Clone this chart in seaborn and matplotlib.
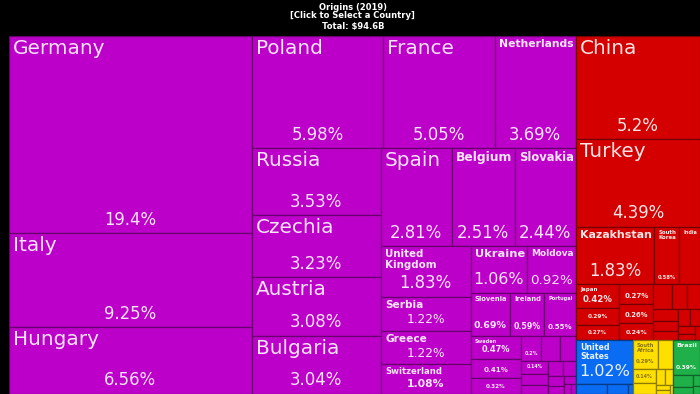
import numpy as np
import pandas as pd
import matplotlib
matplotlib.use("Agg")
import matplotlib.pyplot as plt
import matplotlib.colors as mcolors
import seaborn as sns
from matplotlib.patches import Rectangle
from matplotlib.textpath import TextPath
from matplotlib.font_manager import FontProperties

sns.set_style("dark")
plt.rcParams['font.family'] = ['DejaVu Sans']

# share of total (%) per origin country, grouped by continent
europe = ["Germany", "Italy", "Hungary", "Poland", "France", "Netherlands", "Russia",
          "Czechia", "Austria", "Bulgaria", "Spain", "Belgium", "Slovakia",
          "United Kingdom", "Serbia", "Greece", "Switzerland", "Ukraine", "Moldova",
          "Slovenia", "Ireland", "Portugal", "Sweden", "Denmark", "Croatia", "Romania",
          "Lithuania", "Finland", "Norway", "Belarus", "Estonia", "Latvia",
          "Bosnia and Herzegovina", "Luxembourg", "North Macedonia", "Albania",
          "Montenegro", "Malta"]
europe_pct = [19.4, 9.25, 6.56, 5.98, 5.05, 3.69, 3.53, 3.23, 3.08, 3.04, 2.81, 2.51, 2.44,
              1.83, 1.22, 1.22, 1.08, 1.06, 0.92, 0.69, 0.59, 0.55, 0.47, 0.41, 0.32, 0.20,
              0.19, 0.16, 0.14, 0.12, 0.10, 0.09, 0.08, 0.07, 0.05, 0.04, 0.03, 0.02]

asia = ["China", "Turkey", "Kazakhstan", "South Korea", "India", "Japan", "Iraq", "Thailand",
        "Chinese Taipei", "Vietnam", "Malaysia", "Israel", "Georgia", "Azerbaijan",
        "Uzbekistan", "Indonesia", "Singapore", "United Arab Emirates", "Iran",
        "Philippines", "Pakistan", "Saudi Arabia"]
asia_pct = [5.2, 4.39, 1.83, 0.58, 0.49, 0.42, 0.29, 0.27, 0.27, 0.26, 0.24, 0.19, 0.15,
            0.13, 0.12, 0.10, 0.09, 0.08, 0.07, 0.05, 0.04, 0.03]

north_america = ["United States", "Canada", "Mexico", "Guatemala"]
north_america_pct = [1.02, 0.12, 0.08, 0.02]

africa = ["South Africa", "Egypt", "Tunisia", "Morocco", "Algeria", "Nigeria", "Kenya",
          "Ghana", "Ethiopia"]
africa_pct = [0.29, 0.17, 0.14, 0.10, 0.06, 0.05, 0.03, 0.02, 0.01]

south_america = ["Brazil", "Argentina", "Chile", "Peru", "Colombia"]
south_america_pct = [0.39, 0.10, 0.06, 0.03, 0.02]

continent_colors = dict(zip(
    ["Europe", "Asia", "North America", "Africa", "South America"],
    sns.color_palette(["#bd00c9", "#d40000", "#0a6cf2", "#ffdf00", "#1fb04a"])))

df = pd.concat([
    pd.DataFrame({"continent": "Europe", "country": europe, "share": europe_pct}),
    pd.DataFrame({"continent": "Asia", "country": asia, "share": asia_pct}),
    pd.DataFrame({"continent": "North America", "country": north_america, "share": north_america_pct}),
    pd.DataFrame({"continent": "Africa", "country": africa, "share": africa_pct}),
    pd.DataFrame({"continent": "South America", "country": south_america, "share": south_america_pct}),
], ignore_index=True)

PHI = (1 + 5 ** 0.5) / 2


def squarify(values, x0, y0, x1, y1, ratio=PHI):
    # same steps as d3.treemapSquarify
    rects = [None] * len(values)
    value = float(sum(values))
    n = len(values)
    i0 = i1 = 0
    while i0 < n:
        dx, dy = x1 - x0, y1 - y0
        s = values[i1]
        i1 += 1
        vmin = vmax = s
        alpha = max(dy / dx, dx / dy) / (value * ratio)
        beta = s * s * alpha
        min_ratio = max(vmax / beta, beta / vmin)
        while i1 < n:
            v = values[i1]
            s += v
            vmin, vmax = min(vmin, v), max(vmax, v)
            beta = s * s * alpha
            new_ratio = max(vmax / beta, beta / vmin)
            if new_ratio > min_ratio:
                s -= v
                break
            min_ratio = new_ratio
            i1 += 1
        if dx < dy:
            ny = y0 + dy * s / value if value else y1
            cx = x0
            for i in range(i0, i1):
                w = dx * values[i] / s
                rects[i] = (cx, y0, w, ny - y0)
                cx += w
            y0 = ny
        else:
            nx = x0 + dx * s / value if value else x1
            cy = y0
            for i in range(i0, i1):
                h = dy * values[i] / s
                rects[i] = (x0, cy, nx - x0, h)
                cy += h
            x0 = nx
        value -= s
        i0 = i1
    return rects


_em = {}


def em_width(s, weight):
    key = (s, weight)
    if key not in _em:
        prop = FontProperties(family="DejaVu Sans", weight=weight)
        _em[key] = TextPath((0, 0), s, size=1, prop=prop).get_extents().width
    return _em[key]


def fmt(v):
    s = f"{v:.1f}" if v >= 10 else f"{v:.2f}"
    s = s.rstrip("0").rstrip(".")
    return s + "%"


def fit_name(name, wp, hp):
    options = [[name]]
    parts = name.split()
    for i in range(1, len(parts)):
        options.append([" ".join(parts[:i]), " ".join(parts[i:])])
    best = (0, None, "normal")
    for lines in options:
        fs = min(20.0, (wp - 8) / max(em_width(l, "normal") for l in lines),
                 0.42 * hp / len(lines))
        weight = "normal"
        if fs < 15:
            weight = "bold"
            fs = min(20.0, (wp - 8) / max(em_width(l, "bold") for l in lines),
                     0.42 * hp / len(lines))
        if fs > best[0] + 0.5:
            best = (fs, lines, weight)
    return best


fig = plt.figure(figsize=(7, 3.94), dpi=100, facecolor="black")
ax = fig.add_axes([9 / 700, 0, 691 / 700, 358 / 394])
ax.set_facecolor("black")

# layout is worked out on a narrower canvas and shown stretched
W, H = 537.0, 358.0
sx, sy = 691 / W, 358 / H
ax.set_xlim(0, W)
ax.set_ylim(H, 0)
ax.axis("off")

groups = df.groupby("continent", sort=False)["share"].sum().sort_values(ascending=False)
group_rects = squarify(groups.tolist(), 0, 0, W, H)

for (cont, _), (gx, gy, gw, gh) in zip(groups.items(), group_rects):
    sub = df[df["continent"] == cont].sort_values("share", ascending=False)
    rects = squarify(sub["share"].tolist(), gx, gy, gx + gw, gy + gh)
    fill = continent_colors[cont]
    edge = tuple(c * 0.55 for c in mcolors.to_rgb(fill))
    tcol = "#7a6a10" if cont == "Africa" else "white"
    for (x, y, w, h), (_, row) in zip(rects, sub.iterrows()):
        ax.add_patch(Rectangle((x, y), w, h, facecolor=fill, edgecolor=edge, linewidth=0.9))
        wp, hp = w * sx, h * sy
        pct = fmt(row["share"])
        pct_px = min(16.5, (wp - 6) * 0.95 / em_width(pct, "normal"), 0.36 * hp)
        pweight = "normal"
        if pct_px < 11:
            pweight = "bold"
            pct_px = min(16.5, (wp - 6) * 0.95 / em_width(pct, "bold"), 0.36 * hp)
        off = 4.5 + 0.55 * pct_px
        pct_top = hp - off - 0.6 * pct_px
        fs, lines, nweight = fit_name(row["country"], wp, hp)
        if lines is not None:
            fs = min(fs, (pct_top - 3) / (len(lines) * 1.17))
        if lines is not None and fs >= 4.5 and hp >= 14:
            ax.text(x + 4 / sx, y + 3 / sy, "\n".join(lines), ha="left", va="top",
                    fontsize=fs * 0.72, fontweight=nweight, color=tcol, alpha=0.9,
                    linespacing=1.05)
        if pct_px >= 4.5:
            ax.text(x + w / 2, y + h - off / sy, pct, ha="center", va="center",
                    fontsize=pct_px * 0.72, fontweight=pweight, color=tcol, alpha=0.9)

fig.text(0.504, 1 - 7 / 394, "Origins (2019)", ha="center", va="center",
         color="white", fontsize=6, fontweight="bold")
fig.text(0.504, 1 - 16 / 394, "[Click to Select a Country]", ha="center", va="center",
         color="white", fontsize=6, fontweight="bold")
fig.text(0.504, 1 - 26.5 / 394, "Total: $94.6B", ha="center", va="center",
         color="white", fontsize=6, fontweight="bold")

fig.savefig("out.png", dpi=100, facecolor="black")
